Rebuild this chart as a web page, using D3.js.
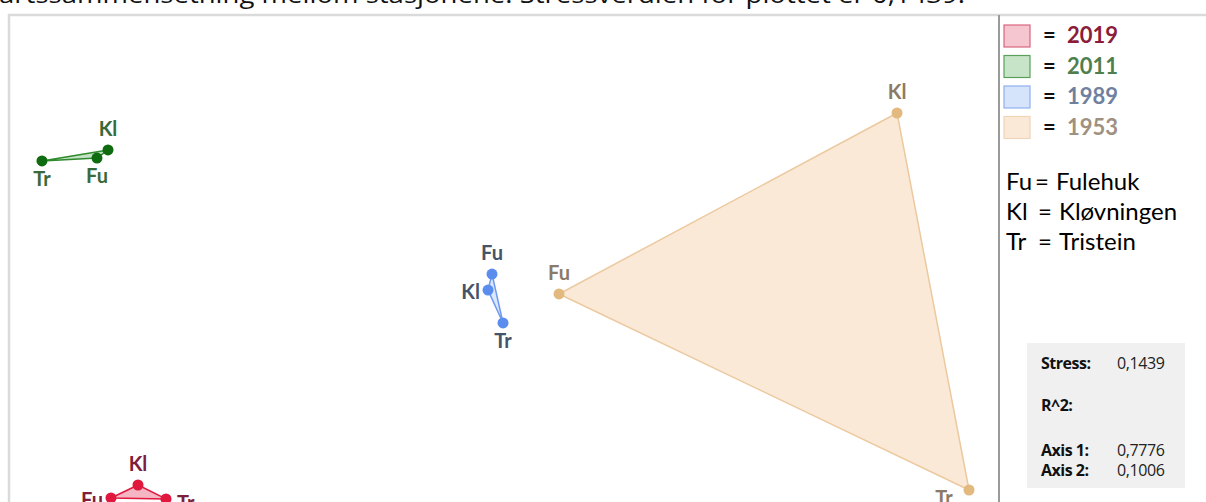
<!DOCTYPE html>
<html>
<head>
<meta charset="utf-8">
<script src="https://cdn.jsdelivr.net/npm/d3@7"></script>
<style>
  html, body { margin: 0; padding: 0; background: #fff; overflow: hidden; }
  svg { display: block; }
</style>
</head>
<body>
<svg id="chart" width="1206" height="502"></svg>
<script>
// NMDS ordination of species composition per station, one triangle per year
const years = ["2019", "2011", "1989", "1953"];
const stations = ["Fu", "Kl", "Tr"];
const stationNames = ["Fulehuk", "Kløvningen", "Tristein"];

// [axis1, axis2] for Fu, Kl, Tr
const coords2019 = [[-0.2786, -0.1971], [-0.2595, -0.1878], [-0.2397, -0.1978]];
const coords2011 = [[-0.2885, 0.0467], [-0.2807, 0.0525], [-0.3274, 0.0446]];
const coords1989 = [[-0.0092, -0.0365], [-0.0120, -0.0480], [-0.0014, -0.0716]];
const coords1953 = [[0.0382, -0.0508], [0.2772, 0.0790], [0.3281, -0.1914]];

// label placement around each point (Fu, Kl, Tr)
const place2019 = ["w", "n", "e"];
const place2011 = ["s", "n", "s"];
const place1989 = ["n", "w", "s"];
const place1953 = ["n", "n", "sw"];

const statLabels = ["Stress:", "R^2:", "Axis 1:", "Axis 2:"];
const statValues = ["0,1439", "", "0,7776", "0,1006"];

const caption = "artssammensetning mellom stasjonene. Stressverdien for plottet er 0,1439.";

const styles = {
  "2019": { point: "#e0183e", fill: "rgba(236,90,120,0.45)", stroke: "#e0183e", label: "#7f1d3a", legend: "#8b1c3b", swFill: "#f6c6d0", swStroke: "#d9667e" },
  "2011": { point: "#0f6b0f", fill: "rgba(90,170,90,0.35)", stroke: "#2d8a2d", label: "#3a6a3a", legend: "#4f7f4f", swFill: "#c8e4c8", swStroke: "#5aa05a" },
  "1989": { point: "#5b8def", fill: "rgba(150,185,245,0.35)", stroke: "#6f9af0", label: "#44546a", legend: "#7080a0", swFill: "#d6e4fb", swStroke: "#8fb0ef" },
  "1953": { point: "#e2b97f", fill: "#fbe9d7", stroke: "#ecc99f", label: "#8c7a68", legend: "#a09080", swFill: "#fbe9d8", swStroke: "#f0d4b8" }
};

const series = [
  { year: "1953", coords: coords1953, place: place1953 },
  { year: "1989", coords: coords1989, place: place1989 },
  { year: "2011", coords: coords2011, place: place2011 },
  { year: "2019", coords: coords2019, place: place2019 }
];

const svg = d3.select("#chart");
const W = 1206, H = 502;

const x = d3.scaleLinear().domain([-0.35, 0.35]).range([10, 1000]);
const y = d3.scaleLinear().domain([-0.2, 0.15]).range([502, 14]);

// caption line running off the top edge
svg.append("text")
  .attr("x", -1).attr("y", 3)
  .attr("font-family", "Open Sans, sans-serif")
  .attr("font-size", 23)
  .attr("fill", "#111")
  .attr("textLength", 966)
  .attr("lengthAdjust", "spacingAndGlyphs")
  .text(caption);

// plot frame
svg.append("path")
  .attr("d", `M9,${H} V15 H${W}`)
  .attr("fill", "none")
  .attr("stroke", "#dadada")
  .attr("stroke-width", 2.5);

// separator between plot and legend
svg.append("line")
  .attr("x1", 999).attr("x2", 999).attr("y1", 15).attr("y2", H)
  .attr("stroke", "#9a9a9a").attr("stroke-width", 2);

const plot = svg.append("g");

series.forEach(s => {
  const st = styles[s.year];
  const pts = s.coords.map(c => [x(c[0]), y(c[1])]);
  plot.append("path")
    .attr("d", d3.line()(pts) + "Z")
    .attr("fill", st.fill)
    .attr("stroke", st.stroke)
    .attr("stroke-width", 1.5)
    .attr("stroke-linejoin", "round");
});

series.forEach(s => {
  const st = styles[s.year];
  s.coords.forEach((c, i) => {
    const px = x(c[0]), py = y(c[1]);
    plot.append("circle")
      .attr("cx", px).attr("cy", py).attr("r", 5.5)
      .attr("fill", st.point);
    let lx = px, ly = py, anchor = "middle";
    const p = s.place[i];
    if (p === "n") { ly = py - 14; }
    else if (p === "s") { ly = py + 25; }
    else if (p === "w") { lx = px - 8; ly = py + 9; anchor = "end"; }
    else if (p === "e") { lx = px + 11; ly = py + 11; anchor = "start"; }
    else if (p === "sw") { lx = px - 25; ly = py + 15; }
    plot.append("text")
      .attr("x", lx).attr("y", ly)
      .attr("text-anchor", anchor)
      .attr("font-family", "Lato, sans-serif")
      .attr("font-weight", 700)
      .attr("font-size", 20)
      .attr("fill", st.label)
      .text(stations[i]);
  });
});

// year legend
const legendYears = ["2019", "2011", "1989", "1953"];
const leg = svg.append("g");
legendYears.forEach((yr, i) => {
  const st = styles[yr];
  const ty = 25 + i * 30.5;
  leg.append("rect")
    .attr("x", 1004).attr("y", ty).attr("width", 26).attr("height", 22)
    .attr("fill", st.swFill).attr("stroke", st.swStroke).attr("stroke-width", 1.2);
  leg.append("text")
    .attr("x", 1043).attr("y", ty + 18)
    .attr("font-family", "Lato, sans-serif").attr("font-weight", 700).attr("font-size", 22)
    .attr("fill", "#111").text("=");
  leg.append("text")
    .attr("x", 1067).attr("y", ty + 18)
    .attr("font-family", "Lato, sans-serif").attr("font-weight", 700).attr("font-size", 22)
    .attr("fill", st.legend).text(yr);
});

// station abbreviations
stations.forEach((ab, i) => {
  const by = 190 + i * 30;
  const t = leg.append("text")
    .attr("y", by)
    .attr("font-family", "Lato, sans-serif").attr("font-size", 24).attr("fill", "#000");
  t.append("tspan").attr("x", 1006).text(ab);
  t.append("tspan").attr("x", ab === "Fu" ? 1035 : 1038).text("=");
  t.append("tspan").attr("x", ab === "Fu" ? 1056 : 1059).text(stationNames[i]);
});

// stress / R^2 box
const box = svg.append("g");
box.append("rect")
  .attr("x", 1027).attr("y", 343).attr("width", 158).attr("height", 145)
  .attr("fill", "#f0f0f0");
const statY = [369, 411, 456, 476];
statLabels.forEach((lab, i) => {
  box.append("text")
    .attr("x", 1041).attr("y", statY[i])
    .attr("font-family", "Open Sans, sans-serif").attr("font-weight", 700).attr("font-size", 16)
    .attr("letter-spacing", -0.5)
    .attr("fill", "#111").text(lab);
  if (statValues[i]) {
    box.append("text")
      .attr("x", 1117).attr("y", statY[i])
      .attr("font-family", "Open Sans, sans-serif").attr("font-size", 16)
      .attr("letter-spacing", -0.4)
      .attr("fill", "#222").text(statValues[i]);
  }
});
</script>
</body>
</html>
